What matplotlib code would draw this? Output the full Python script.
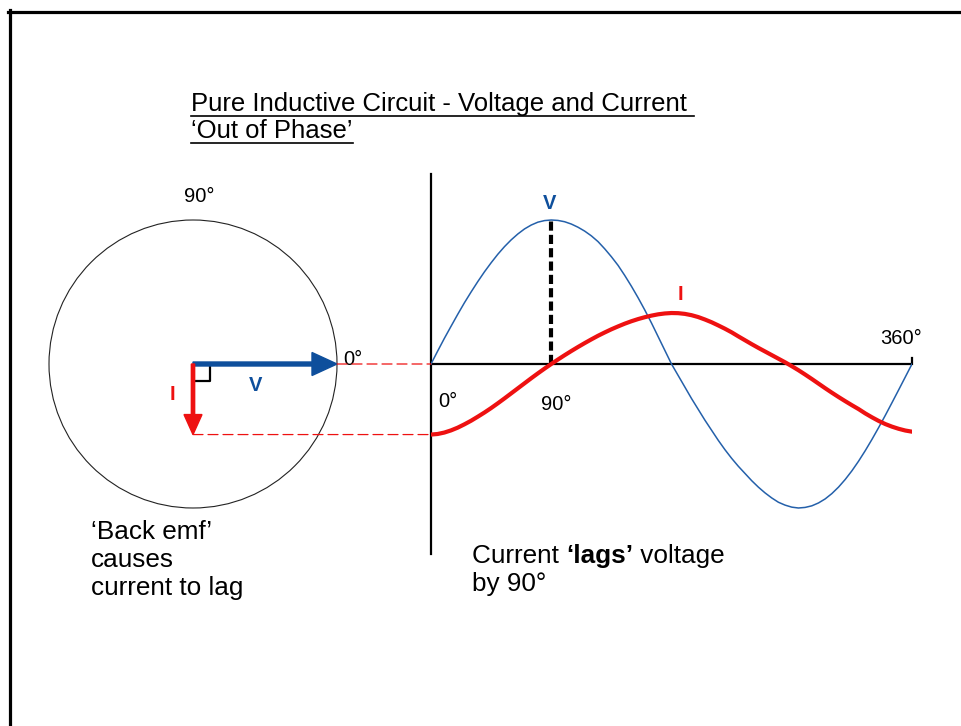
import matplotlib.pyplot as plt
from matplotlib.lines import Line2D
from matplotlib.patches import Circle, ConnectionPatch


# --------------------------------------------------
# DATA (5 degree steps)
# --------------------------------------------------

angle_deg = list(range(0, 361, 5))

voltage = [
    0.000, 0.090, 0.178, 0.262, 0.345, 0.425, 0.500, 0.572, 0.640,
    0.703, 0.762, 0.815, 0.862, 0.903, 0.938, 0.965, 0.985, 0.996,
    1.000, 0.997, 0.988, 0.972, 0.950, 0.923, 0.890, 0.850, 0.800,
    0.745, 0.685, 0.615, 0.540, 0.460, 0.375, 0.285, 0.190, 0.095,
    0.000, -0.080, -0.160, -0.240, -0.315, -0.390, -0.460, -0.530,
    -0.595, -0.655, -0.710, -0.760, -0.810, -0.855, -0.895, -0.930,
    -0.960, -0.980, -0.994, -1.000, -0.996, -0.985, -0.965, -0.937,
    -0.900, -0.855, -0.802, -0.742, -0.675, -0.602, -0.524, -0.442,
    -0.357, -0.269, -0.180, -0.090, 0.000,
]

current = [
    -0.490, -0.486, -0.476, -0.461, -0.442, -0.419, -0.394, -0.366,
    -0.337, -0.306, -0.273, -0.239, -0.204, -0.169, -0.134, -0.099,
    -0.065, -0.032, 0.000, 0.031, 0.061, 0.090, 0.118, 0.145, 0.171,
    0.196, 0.219, 0.241, 0.261, 0.280, 0.297, 0.312, 0.325, 0.336,
    0.345, 0.351, 0.354, 0.353, 0.348, 0.339, 0.326, 0.309, 0.290,
    0.268, 0.245, 0.220, 0.192, 0.165, 0.138, 0.112, 0.087, 0.062,
    0.037, 0.012, -0.015, -0.043, -0.073, -0.104, -0.136, -0.168,
    -0.199, -0.229, -0.258, -0.286, -0.313, -0.343, -0.370, -0.395,
    -0.417, -0.435, -0.450, -0.462, -0.470,
]

angle_labels = ["0°", "90°", "360°"]


# --------------------------------------------------
# STYLE
# --------------------------------------------------

plt.rcParams["font.family"] = ["Liberation Sans", "DejaVu Sans"]

BLUE_ARROW = "#0e4f9c"
BLUE_LINE = "#2460aa"
RED = "#ee1111"

W, H = 961, 726


def fx(x):
    return x / W


def fy(y):
    return 1 - y / H


fig = plt.figure(
    figsize=(W / 100, H / 100),
    dpi=100,
)


# --------------------------------------------------
# WAVE AXES
# --------------------------------------------------

px_per_unit = 144
x_left, x_right = 431, 912
y_top, y_bottom = 174, 554
half = (y_bottom - y_top) / 2 / px_per_unit

ax = fig.add_axes(
    [
        fx(x_left),
        fy(y_bottom),
        (x_right - x_left) / W,
        (y_bottom - y_top) / H,
    ]
)
ax.set_xlim(0, 360)
ax.set_ylim(-half, half)
ax.set_facecolor("none")
ax.set_xticks([])
ax.set_yticks([])

for side in ["top", "right", "bottom"]:
    ax.spines[side].set_visible(False)

ax.spines["left"].set_linewidth(1.6)

ax.plot(
    [0, 360],
    [0, 0],
    color="black",
    lw=1.6,
    solid_capstyle="butt",
)
ax.plot(
    [360, 360],
    [0, 0.045],
    color="black",
    lw=1.6,
    clip_on=False,
)

ax.plot(
    angle_deg,
    voltage,
    color=BLUE_LINE,
    lw=1.1,
    zorder=3,
)
ax.plot(
    angle_deg,
    current,
    color=RED,
    lw=3.0,
    zorder=4,
)

v_peak = max(voltage)
v_peak_angle = angle_deg[voltage.index(v_peak)]

ax.plot(
    [v_peak_angle, v_peak_angle],
    [0, v_peak],
    color="black",
    lw=3.0,
    linestyle=(0, (2.2, 1.0)),
    zorder=2,
)

ax.text(89, 1.118, "V", color=BLUE_ARROW, fontsize=14.5,
        fontweight="bold", ha="center", va="center")
ax.text(187, 0.48, "I", color=RED, fontsize=14.5,
        fontweight="bold", ha="center", va="center")
ax.text(5.2, -0.26, angle_labels[0], fontsize=14.5,
        ha="left", va="center")
ax.text(93.6, -0.28, angle_labels[1], fontsize=14.5,
        ha="center", va="center")
ax.text(352, 0.18, angle_labels[2], fontsize=14.5,
        ha="center", va="center")


# --------------------------------------------------
# PHASOR AXES
# --------------------------------------------------

cx, cy, box = 193, 364, 180

axp = fig.add_axes(
    [
        fx(cx - box),
        fy(cy + box),
        2 * box / W,
        2 * box / H,
    ]
)
lim = box / px_per_unit
axp.set_xlim(-lim, lim)
axp.set_ylim(-lim, lim)
axp.set_facecolor("none")
axp.axis("off")

v_len = v_peak
i_len = -current[0]

axp.add_patch(
    Circle(
        (0, 0),
        v_len,
        fill=False,
        edgecolor="#222222",
        lw=0.8,
    )
)

axp.arrow(
    0, 0, v_len, 0,
    width=4 / px_per_unit,
    head_width=23 / px_per_unit,
    head_length=25 / px_per_unit,
    length_includes_head=True,
    color=BLUE_ARROW,
    zorder=5,
)
axp.arrow(
    0, 0, 0, -i_len,
    width=3.3 / px_per_unit,
    head_width=18 / px_per_unit,
    head_length=20 / px_per_unit,
    length_includes_head=True,
    color=RED,
    zorder=5,
)

axp.plot(
    [0.0, 0.12, 0.12],
    [-0.115, -0.115, 0.0],
    color="black",
    lw=1.6,
    zorder=4,
)

axp.text(0.04, 1.16, "90°", fontsize=14.5, ha="center", va="center")
axp.text(1.04, -0.01, "0°", fontsize=14.5, ha="left", va="baseline")
axp.text(0.434, -0.15, "V", color=BLUE_ARROW, fontsize=14.5,
         fontweight="bold", ha="center", va="center")
axp.text(-0.146, -0.21, "I", color=RED, fontsize=14.5,
         fontweight="bold", ha="center", va="center")


# --------------------------------------------------
# PROJECTION LINES
# --------------------------------------------------

for start, end in [
    ((v_len, 0), (0, voltage[0])),
    ((0, -i_len), (0, current[0])),
]:
    fig.add_artist(
        ConnectionPatch(
            xyA=start,
            coordsA=axp.transData,
            xyB=end,
            coordsB=ax.transData,
            color=RED,
            lw=0.9,
            linestyle=(0, (8, 4)),
        )
    )


# --------------------------------------------------
# TEXTS AND FRAME
# --------------------------------------------------

title_1 = fig.text(fx(191), fy(111),
                   "Pure Inductive Circuit - Voltage and Current ",
                   fontsize=18.5, va="baseline")
title_2 = fig.text(fx(191), fy(138), "‘Out of Phase’",
                   fontsize=18.5, va="baseline")

for i, line in enumerate(["‘Back emf’", "causes", "current to lag"]):
    fig.text(fx(91), fy(539 + 28 * i), line,
             fontsize=18.8, va="baseline")

renderer = fig.canvas.get_renderer()

parts = [
    ("Current ", "normal"),
    ("‘lags’", "bold"),
    (" voltage", "normal"),
]
x_cur = 472
for txt, weight in parts:
    t = fig.text(fx(x_cur), fy(563), txt, fontsize=18.8,
                 fontweight=weight, va="baseline")
    x_cur = t.get_window_extent(renderer).x1

fig.text(fx(472), fy(591), "by 90°", fontsize=18.8, va="baseline")

for t, base in [(title_1, 111), (title_2, 138)]:
    bb = t.get_window_extent(renderer)
    fig.add_artist(
        Line2D(
            [bb.x0 / W, bb.x1 / W],
            [fy(base + 4.5), fy(base + 4.5)],
            color="black",
            lw=1.2,
        )
    )

fig.add_artist(Line2D([fx(8), 1], [fy(11.5), fy(11.5)],
                      color="black", lw=2.3))
fig.add_artist(Line2D([fx(9.5), fx(9.5)], [fy(10), 0],
                      color="black", lw=2.3))


# --------------------------------------------------
# SAVE
# --------------------------------------------------

fig.savefig("out.png", dpi=100)
plt.close(fig)
